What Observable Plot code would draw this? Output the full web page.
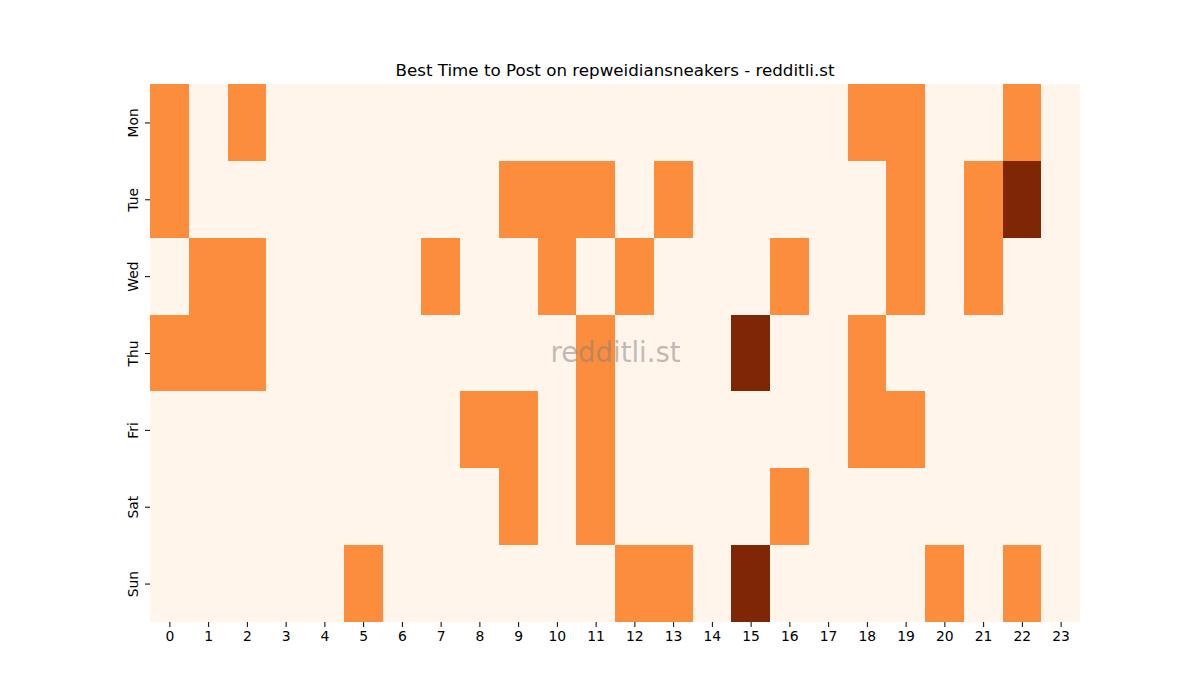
<!DOCTYPE html>
<html>
<head>
<meta charset="utf-8">
<script src="https://cdn.jsdelivr.net/npm/d3@7"></script>
<script src="https://cdn.jsdelivr.net/npm/@observablehq/plot@0.6"></script>
<style>
  body { margin: 0; background: #fff; font-family: "DejaVu Sans", sans-serif; }
  #title { width: 1200px; height: 84px; box-sizing: border-box; padding: 0 120px 4px 150px;
           display: flex; align-items: flex-end; justify-content: center;
           font-size: 16.7px; line-height: 20px; color: #000; }
</style>
</head>
<body>
<div id="title">Best Time to Post on repweidiansneakers - redditli.st</div>
<div id="chart"></div>
<script>
const days = ["Mon", "Tue", "Wed", "Thu", "Fri", "Sat", "Sun"];
const hours = d3.range(24);
// values per day, 24 hours each (0 = low, 1 = medium, 2 = high)
const mon = [1,0,1,0,0,0,0,0,0,0,0,0,0,0,0,0,0,0,1,1,0,0,1,0];
const tue = [1,0,0,0,0,0,0,0,0,1,1,1,0,1,0,0,0,0,0,1,0,1,2,0];
const wed = [0,1,1,0,0,0,0,1,0,0,1,0,1,0,0,0,1,0,0,1,0,1,0,0];
const thu = [1,1,1,0,0,0,0,0,0,0,0,1,0,0,0,2,0,0,1,0,0,0,0,0];
const fri = [0,0,0,0,0,0,0,0,1,1,0,1,0,0,0,0,0,0,1,1,0,0,0,0];
const sat = [0,0,0,0,0,0,0,0,0,1,0,1,0,0,0,0,1,0,0,0,0,0,0,0];
const sun = [0,0,0,0,0,1,0,0,0,0,0,0,1,1,0,2,0,0,0,0,1,0,1,0];
const rows = [mon, tue, wed, thu, fri, sat, sun];
const watermark = ["redditli.st"];

const data = [];
rows.forEach((r, i) => r.forEach((v, h) => data.push({day: days[i], hour: hours[h], value: v})));

const chart = Plot.plot({
  width: 1200,
  height: 616,
  marginLeft: 150,
  marginRight: 120,
  marginTop: 0,
  marginBottom: 78,
  style: {fontFamily: "DejaVu Sans, sans-serif", fontSize: "13.9px", color: "#000", background: "transparent"},
  x: {type: "band", domain: hours, padding: 0, round: false, label: null},
  y: {type: "band", domain: days, padding: 0, round: false, label: null},
  color: {type: "linear", domain: [0, 2], scheme: "oranges"},
  marks: [
    Plot.cell(data, {x: "hour", y: "day", fill: "value", inset: 0, shapeRendering: "crispEdges"}),
    Plot.text(watermark, {frameAnchor: "middle", text: d => d, fill: "gray", fillOpacity: 0.5, fontSize: 27.5}),
    Plot.axisX({tickSize: 5, tickPadding: 4, label: null}),
    Plot.axisY({tickSize: 5, tickPadding: 8, tickRotate: -90, label: null})
  ]
});
document.getElementById("chart").appendChild(chart);
</script>
</body>
</html>
